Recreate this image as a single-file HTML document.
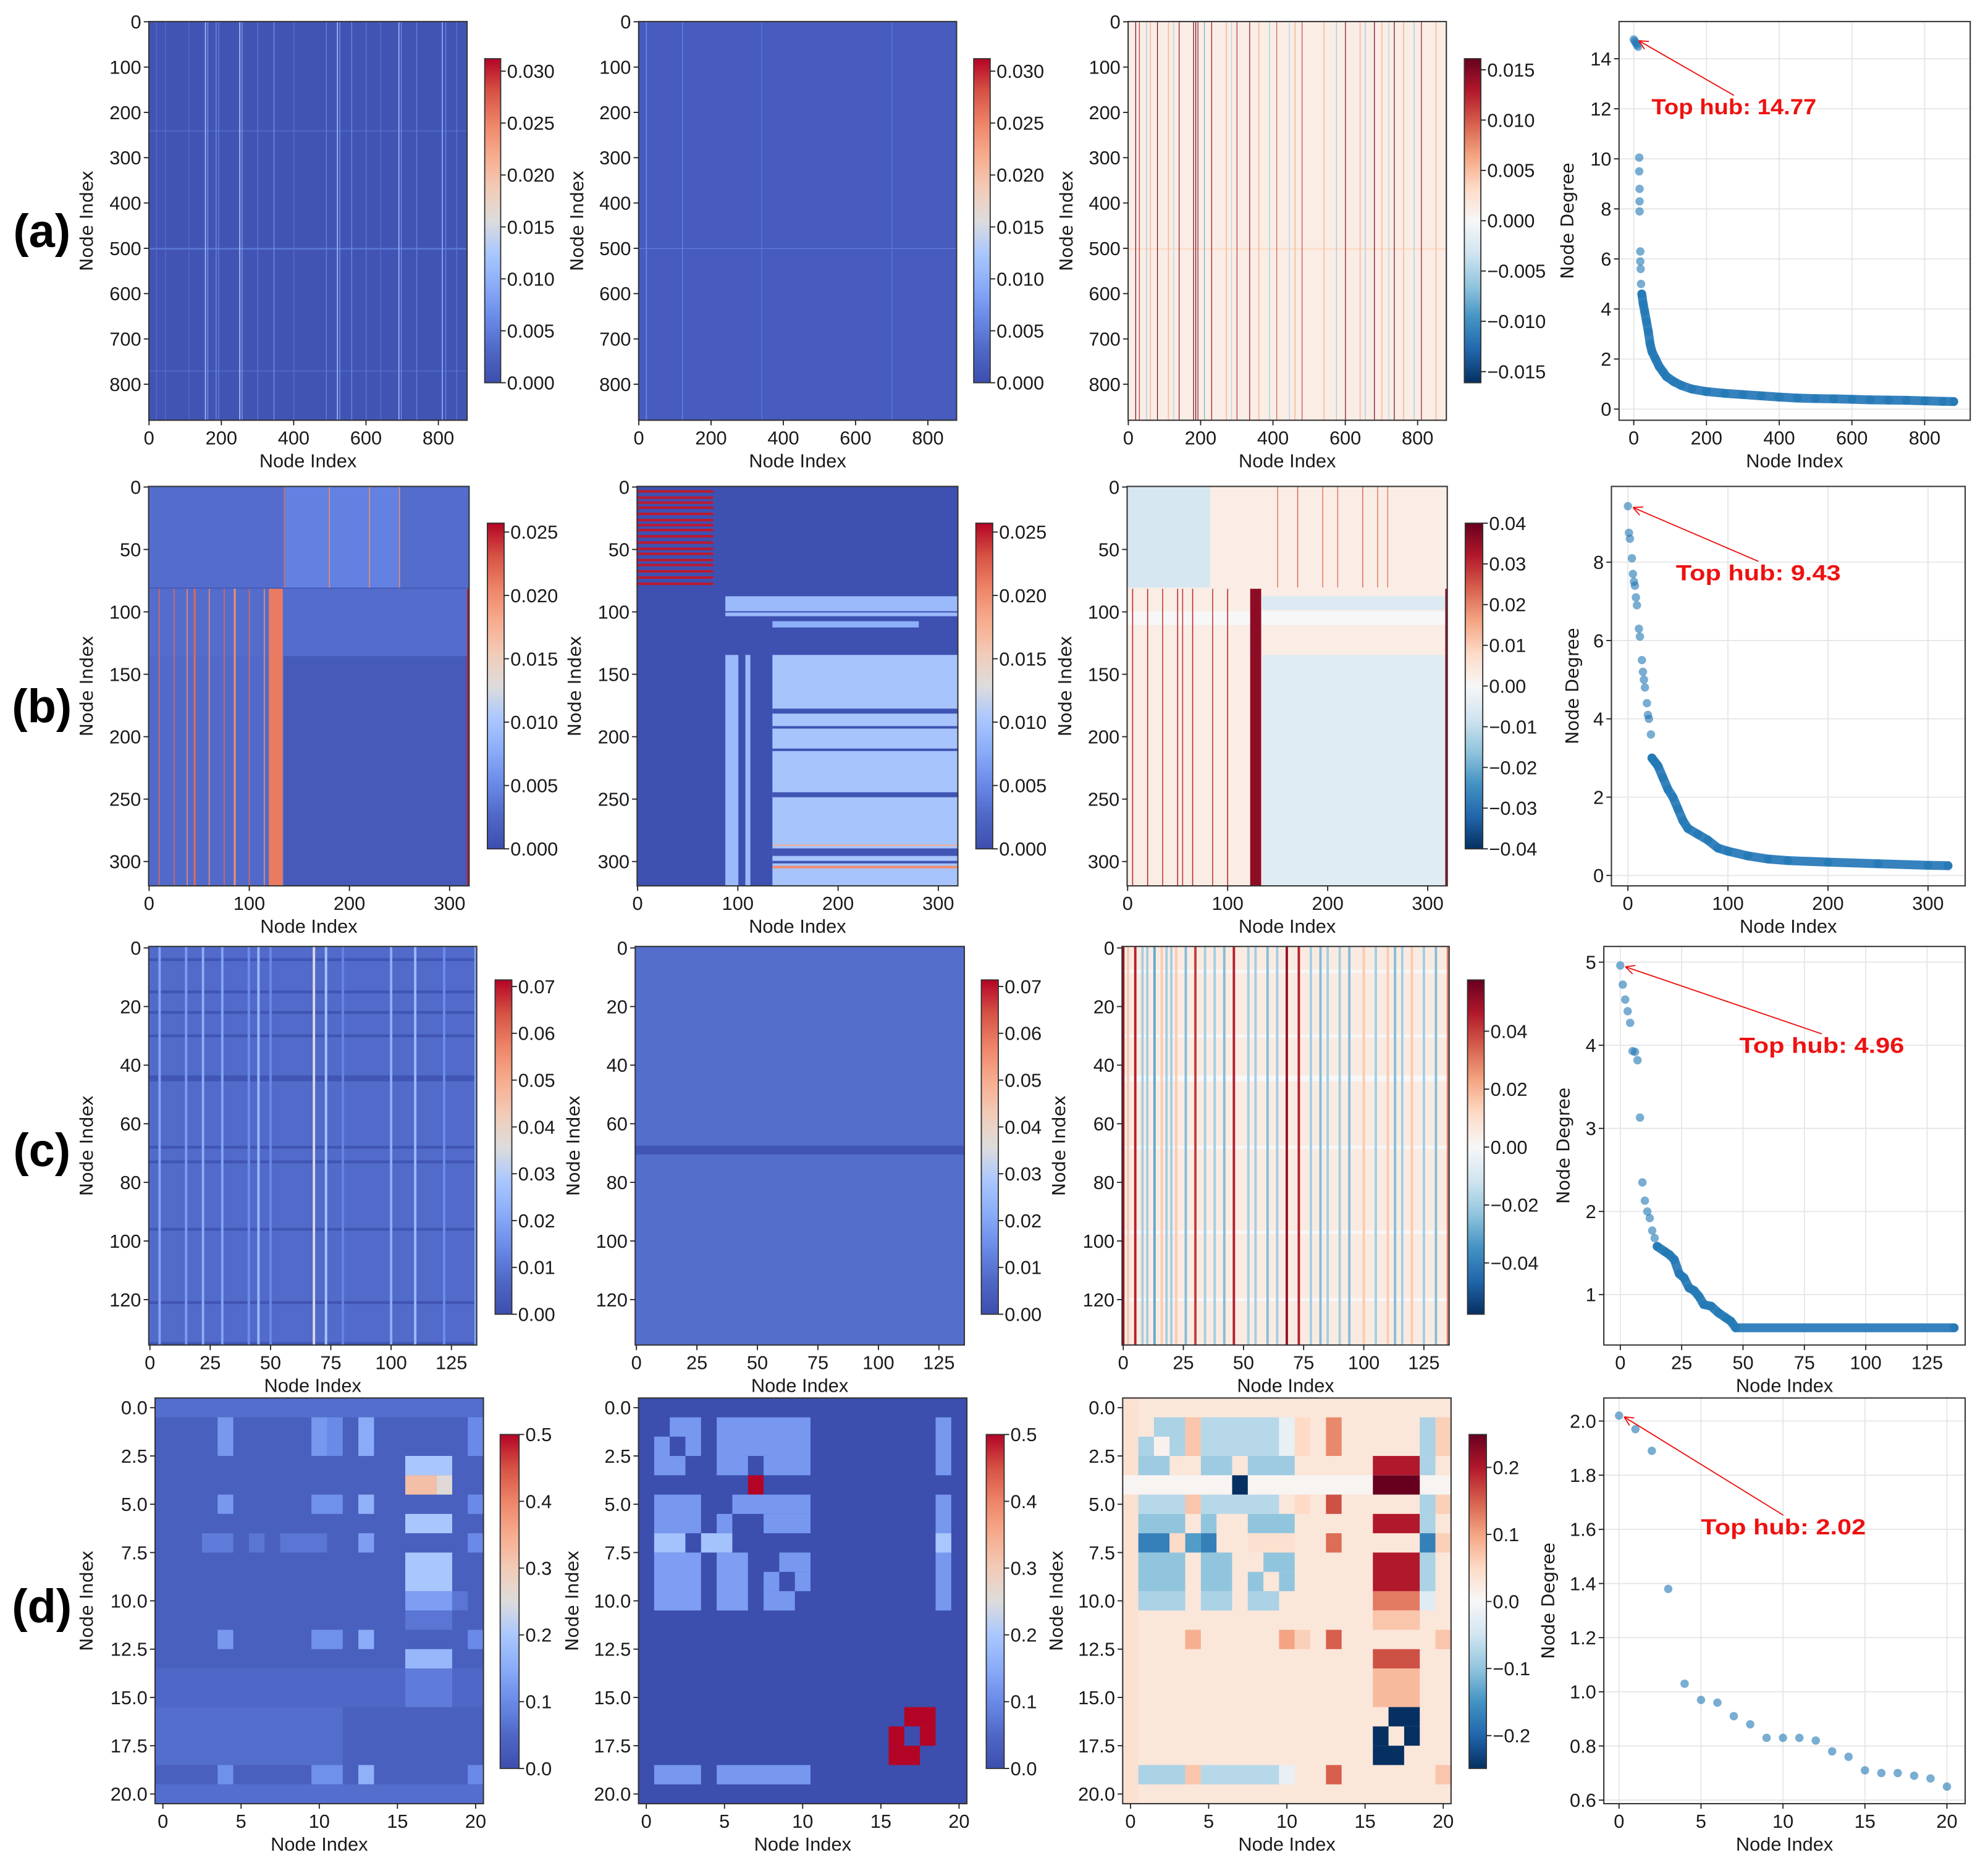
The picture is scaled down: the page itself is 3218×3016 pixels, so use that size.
<!DOCTYPE html>
<html><head><meta charset="utf-8"><title>Node connectivity figure</title>
<style>
html,body{margin:0;padding:0;background:#fff;}
svg{display:block;}
text{font-family:"Liberation Sans","DejaVu Sans",sans-serif;fill:#1a1a1a;}
.tk{font-size:15px;}
.lab{font-size:14px;font-family:"DejaVu Sans","Liberation Sans",sans-serif;}
.xl{font-size:15px;}
.pl{font-size:37px;font-weight:bold;fill:#000;}
.ann{font-size:17px;font-weight:bold;fill:#ee1111;}
</style></head>
<body>
<svg id="fig" xmlns="http://www.w3.org/2000/svg" width="3218" height="3016" viewBox="0 0 1568 1469.6">
<rect x="0" y="0" width="1568" height="1469.6" fill="#fff"/>
</svg>
<script>
// ===== heatmap data (index arrays: [start,end,rowStart,rowEnd,value] / [index,value,width]) =====
const a1Cols=[[20,0.004,2],[45,0.004,2],[110,0.004,2],[155,0.011,3],[162,0.008,2],[185,0.007,2],[192,0.006,2],[250,0.012,3],[257,0.009,2],[300,0.005,2],[345,0.008,2],[400,0.004,2],[490,0.006,2],[520,0.011,3],[527,0.008,2],[560,0.007,2],[600,0.005,2],[640,0.004,2],[690,0.010,3],[697,0.007,2],[740,0.006,2],[810,0.009,3],[820,0.006,2],[850,0.005,2]];
const a1Rows=[[240,0.003,3],[500,0.005,3],[770,0.003,3]];
const a2Cols=[[20,0.006,3],[120,0.005,3],[340,0.005,2],[700,0.005,2]];
const a2Rows=[[500,0.005,2]];
const a3Cols=[[20,0.016,2],[30,0.012,2],[60,0.005,3],[80,0.016,2],[110,0.005,3],[140,0.015,2],[180,0.016,2],[186,0.016,2],[192,0.014,2],[230,0.014,2],[270,0.005,3],[300,0.012,2],[335,0.015,2],[360,0.005,3],[410,0.010,2],[460,0.005,3],[480,0.011,2],[540,0.005,3],[600,0.015,2],[640,0.005,3],[680,0.016,2],[700,0.005,3],[735,0.016,2],[760,0.005,3],[810,0.014,2],[850,0.005,3],[50,-0.006,2],[125,-0.005,2],[210,-0.008,2],[285,-0.005,2],[390,-0.006,2],[445,-0.005,2],[575,-0.006,2],[655,-0.006,2],[720,-0.005,2],[790,-0.006,2]];
const a3Rows=[[500,0.003,4]];
const b1Blocks=[[0,319,0,80,0.003],[135,250,0,80,0.0045],[0,319,82,135,0.003],[0,134,136,319,0.0028],[120,133,82,319,0.021],[10,10,82,319,0.022],[25,25,82,319,0.022],[38,38,82,319,0.02],[45,46,82,319,0.022],[60,60,82,319,0.02],[75,75,82,319,0.022],[85,86,82,319,0.02],[100,100,82,319,0.022],[115,115,82,319,0.02],[135,135,0,80,0.022],[180,180,0,80,0.02],[220,220,0,80,0.02],[250,250,0,80,0.02],[318,319,82,319,0.025]];
const b2Blocks=[[0,75,3,4,0.025],[0,75,8,9,0.025],[0,75,12,13,0.025],[0,75,16,17,0.025],[0,75,21,22,0.025],[0,75,26,27,0.025],[0,75,30,31,0.025],[0,75,34,35,0.025],[0,75,39,40,0.025],[0,75,44,45,0.025],[0,75,49,50,0.025],[0,75,53,54,0.025],[0,75,58,59,0.025],[0,75,62,63,0.025],[0,75,67,68,0.025],[0,75,72,73,0.025],[0,75,77,78,0.025],[88,319,88,99,0.009],[88,319,101,103,0.009],[135,280,108,112,0.008],[135,319,135,319,0.010],[88,100,135,319,0.009],[108,112,135,319,0.009],[135,319,178,181,0.0006],[135,319,192,193,0.0006],[135,319,210,211,0.0006],[135,319,245,248,0.0006],[135,319,290,295,0.0006],[135,319,300,301,0.0006],[135,319,287,287,0.018],[135,319,304,305,0.02]];
const b3Blocks=[[0,82,0,80,-0.007],[0,319,100,110,0],[135,319,88,98,-0.006],[135,319,135,319,-0.005],[123,133,82,319,0.036],[5,5,82,319,0.03],[20,20,82,319,0.03],[35,35,82,319,0.028],[50,50,82,319,0.03],[55,55,82,319,0.028],[65,65,82,319,0.03],[85,85,82,319,0.028],[100,100,82,319,0.03],[150,150,0,80,0.02],[170,170,0,80,0.022],[195,195,0,80,0.02],[210,210,0,80,0.02],[235,235,0,80,0.022],[250,250,0,80,0.02],[260,260,0,80,0.02],[318,319,82,319,0.035]];
const c1Cols=[[4,0.02,1],[15,0.018,1],[22,0.022,1],[30,0.02,1],[41,0.015,1],[45,0.025,1],[50,0.014,1],[68,0.035,1],[73,0.028,1],[80,0.013,1],[100,0.022,1],[110,0.025,1],[122,0.015,1],[135,0.02,1]];
const c1Rows=[[4,0.002,1],[15,0.002,1],[22,0.002,1],[30,0.002,1],[44,0.002,2],[68,0.002,1],[73,0.002,1],[96,0.002,1],[121,0.002,1],[135,0.002,1]];
const c2Rows=[[68,0.002,3]];
const c2Cols=[];
const c3Cols=[[0,0.05,1],[2,0.015,1],[5,0.045,1],[8,-0.02,1],[10,-0.02,1],[13,-0.03,1],[16,0.015,1],[18,-0.02,1],[20,-0.02,1],[22,0.015,1],[26,-0.025,1],[30,0.04,1],[34,-0.02,1],[38,-0.02,1],[42,-0.025,1],[46,0.045,1],[52,-0.02,1],[55,-0.02,1],[60,-0.025,1],[64,-0.02,1],[68,0.05,1],[73,0.045,1],[78,-0.02,1],[82,-0.025,1],[85,-0.02,1],[90,-0.02,1],[94,-0.025,1],[100,0.015,1],[105,-0.02,1],[110,0.015,1],[113,-0.025,1],[116,-0.02,1],[120,0.015,1],[125,-0.02,1],[130,-0.025,1],[135,0.03,1]];
const c3Rows=[[8,0.0,1],[30,0.0,1],[44,0.0,2],[68,0.0,1],[97,0.0,1],[120,0.0,1]];
const d1Blocks=[[0,20,0,0,0.06],[4,4,1,2,0.12],[10,10,1,2,0.12],[11,11,1,2,0.1],[13,13,1,2,0.15],[20,20,1,2,0.1],[16,18,3,3,0.2],[16,17,4,4,0.32],[18,18,4,4,0.26],[4,4,5,5,0.12],[10,11,5,5,0.11],[13,13,5,5,0.16],[20,20,5,5,0.1],[16,18,6,6,0.2],[3,4,7,7,0.08],[6,6,7,7,0.07],[8,10,7,7,0.07],[13,13,7,7,0.13],[20,20,7,7,0.1],[16,18,8,9,0.2],[16,18,10,10,0.13],[19,19,10,10,0.07],[16,18,11,11,0.07],[4,4,12,12,0.12],[10,11,12,12,0.11],[13,13,12,12,0.15],[20,20,12,12,0.1],[16,18,13,13,0.17],[0,20,14,15,0.05],[16,18,14,15,0.08],[0,11,16,18,0.06],[4,4,19,19,0.11],[10,11,19,19,0.11],[13,13,19,19,0.16],[20,20,19,19,0.1],[0,20,20,20,0.06]];
const d2Blocks=[[2,3,1,2,0.12],[5,10,1,2,0.12],[19,19,1,3,0.12],[1,1,2,2,0.12],[2,2,2,2,0.0],[1,2,3,3,0.12],[5,6,3,3,0.12],[8,10,3,3,0.12],[7,7,4,4,0.5],[1,3,5,6,0.12],[6,10,5,5,0.12],[5,5,6,6,0.12],[8,10,6,6,0.12],[19,19,5,10,0.12],[19,19,7,7,0.2],[1,2,7,7,0.19],[4,5,7,7,0.19],[1,3,8,10,0.13],[5,6,8,10,0.13],[9,10,8,8,0.12],[8,8,9,9,0.12],[10,10,9,9,0.12],[8,9,10,10,0.12],[17,18,16,16,0.5],[16,16,17,17,0.5],[18,18,17,17,0.5],[16,17,18,18,0.5],[1,3,19,19,0.12],[5,10,19,19,0.12]];
const d3Blocks=[[0,0,0,20,0.04],[2,3,1,2,-0.08],[4,4,1,2,0.07],[5,9,1,2,-0.07],[10,10,1,2,-0.02],[11,11,1,2,0.05],[13,13,1,2,0.12],[19,19,1,2,-0.08],[20,20,1,2,0.06],[1,1,2,2,-0.08],[2,2,2,2,0.01],[1,2,3,3,-0.09],[5,6,3,3,-0.09],[8,10,3,3,-0.09],[16,18,3,3,0.2],[19,19,3,3,-0.08],[0,20,4,4,0.005],[7,7,4,4,-0.25],[16,18,4,4,0.25],[1,3,5,5,-0.07],[4,4,5,5,0.07],[5,9,5,5,-0.07],[11,11,5,5,0.05],[13,13,5,5,0.16],[19,19,5,5,-0.08],[20,20,5,5,0.06],[1,3,6,6,-0.1],[5,5,6,6,-0.1],[8,10,6,6,-0.1],[16,18,6,6,0.2],[19,19,6,6,-0.08],[1,2,7,7,-0.17],[3,3,7,7,0.05],[4,4,7,7,-0.14],[5,5,7,7,-0.17],[8,10,7,7,0.04],[13,13,7,7,0.14],[19,19,7,7,-0.17],[20,20,7,7,0.06],[1,3,8,9,-0.1],[5,6,8,9,-0.1],[9,10,8,8,-0.1],[8,8,9,9,-0.1],[10,10,9,9,-0.1],[16,18,8,9,0.2],[19,19,8,9,-0.08],[1,3,10,10,-0.08],[5,6,10,10,-0.08],[8,9,10,10,-0.08],[16,18,10,10,0.13],[19,19,10,10,-0.03],[16,18,11,11,0.07],[4,4,12,12,0.09],[10,10,12,12,0.1],[11,11,12,12,0.06],[13,13,12,12,0.15],[20,20,12,12,0.07],[16,18,13,13,0.16],[16,18,14,15,0.08],[17,18,16,16,-0.25],[16,16,17,17,-0.25],[18,18,17,17,-0.25],[16,17,18,18,-0.25],[1,3,19,19,-0.08],[4,4,19,19,0.07],[5,9,19,19,-0.07],[10,10,19,19,-0.02],[13,13,19,19,0.15],[20,20,19,19,0.07]];

// ===== scatter data: [node index, degree] =====
const a4Dots=[[0,14.77],[3,14.7],[6,14.62],[9,14.55],[12,14.48],[15,10.05],[15,9.5],[16,8.8],[16,8.3],[16,7.9],[18,6.3],[18,5.9],[19,5.6],[20,5.0]];
const a4Band=[[22,4.6],[26,4.2],[30,3.9],[35,3.5],[40,3.1],[45,2.6],[50,2.3],[60,2.0],[70,1.7],[80,1.5],[90,1.3],[110,1.1],[130,0.95],[160,0.8],[200,0.7],[250,0.63],[300,0.58],[350,0.53],[400,0.48],[450,0.44],[500,0.42],[550,0.41],[600,0.39],[650,0.37],[700,0.36],[750,0.35],[800,0.33],[850,0.31],[880,0.3]];
const b4Dots=[[0,9.43],[1,8.75],[2,8.6],[4,8.1],[5,7.7],[6,7.5],[7,7.4],[8,7.1],[9,6.9],[11,6.3],[12,6.1],[14,5.5],[15,5.2],[16,5.0],[17,4.8],[19,4.4],[20,4.1],[21,4.0],[23,3.6]];
const b4Band=[[24,3.0],[27,2.9],[30,2.8],[35,2.5],[40,2.2],[45,2.0],[50,1.7],[55,1.4],[60,1.2],[70,1.05],[80,0.9],[90,0.7],[100,0.62],[120,0.5],[140,0.42],[160,0.38],[200,0.34],[250,0.3],[300,0.26],[320,0.25]];
const c4Dots=[[0,4.96],[1,4.73],[2,4.55],[3,4.41],[4,4.27],[5,3.93],[6,3.92],[7,3.82],[8,3.13],[9,2.35],[10,2.13],[11,2.0],[12,1.92],[13,1.77],[14,1.68]];
const c4Band=[[15,1.58],[18,1.52],[20,1.48],[22,1.42],[24,1.25],[26,1.2],[28,1.08],[30,1.05],[32,0.98],[34,0.88],[37,0.86],[40,0.78],[43,0.72],[45,0.68],[47,0.6],[136,0.6]];
const d4Dots=[[0,2.02],[1,1.97],[2,1.89],[3,1.38],[4,1.03],[5,0.97],[6,0.96],[7,0.91],[8,0.88],[9,0.83],[10,0.83],[11,0.83],[12,0.82],[13,0.78],[14,0.76],[15,0.71],[16,0.70],[17,0.70],[18,0.69],[19,0.68],[20,0.65]];
const d4Band=[];
const hubLabels=["Top hub: 14.77","Top hub: 9.43","Top hub: 4.96","Top hub: 2.02"];

// ===== tick label arrays =====
const tA=[0,200,400,600,800], tAy=[0,100,200,300,400,500,600,700,800];
const tB=[0,100,200,300], tBy=[0,50,100,150,200,250,300];
const tC=[0,25,50,75,100,125], tCy=[0,20,40,60,80,100,120];
const tD=[0,5,10,15,20], tDy=[0,2.5,5,7.5,10,12.5,15,17.5,20];
const cbA=[0,0.005,0.01,0.015,0.02,0.025,0.03], cbA3=[-0.015,-0.01,-0.005,0,0.005,0.01,0.015];
const cbB=[0,0.005,0.01,0.015,0.02,0.025], cbB3=[-0.04,-0.03,-0.02,-0.01,0,0.01,0.02,0.03,0.04];
const cbC=[0,0.01,0.02,0.03,0.04,0.05,0.06,0.07], cbC3=[-0.04,-0.02,0,0.02,0.04];
const cbD=[0,0.1,0.2,0.3,0.4,0.5], cbD3=[-0.2,-0.1,0,0.1,0.2];
const sAy=[0,2,4,6,8,10,12,14], sBy=[0,2,4,6,8], sCy=[1,2,3,4,5], sDy=[0.6,0.8,1.0,1.2,1.4,1.6,1.8,2.0];

// ===== rendering =====
const NS="http://www.w3.org/2000/svg";
const svg=document.getElementById('fig');
function el(tag,attrs,parent){const e=document.createElementNS(NS,tag);for(const k in attrs)e.setAttribute(k,attrs[k]);(parent||svg).appendChild(e);return e;}
function txt(s,attrs,parent){const e=el('text',attrs,parent);e.textContent=s;return e;}
const CW=[[0,'#3c4eae'],[0.1,'#4f67c6'],[0.2,'#6a8ae8'],[0.3,'#8aacf8'],[0.4,'#aac7fd'],[0.5,'#dddcdc'],[0.6,'#f2cbb7'],[0.7,'#f7ac8e'],[0.8,'#ee8468'],[0.9,'#d65244'],[1,'#b40426']];
const RB=[[0,'#053061'],[0.1,'#2166ac'],[0.2,'#4393c3'],[0.3,'#92c5de'],[0.4,'#d1e5f0'],[0.5,'#f7f7f7'],[0.6,'#fddbc7'],[0.7,'#f4a582'],[0.8,'#d6604d'],[0.9,'#b2182b'],[1,'#67001f']];
function hex(h){return [parseInt(h.substr(1,2),16),parseInt(h.substr(3,2),16),parseInt(h.substr(5,2),16)];}
function cmap(st,t){t=Math.max(0,Math.min(1,t));for(let i=1;i<st.length;i++){if(t<=st[i][0]){const a=hex(st[i-1][1]),b=hex(st[i][1]);const f=(t-st[i-1][0])/(st[i][0]-st[i-1][0]);return 'rgb('+a.map((v,j)=>Math.round(v+(b[j]-v)*f)).join(',')+')';}}return st[st.length-1][1];}
function fmtMinus(s){return s.replace('-','\u2212');}
let gid=0;

function heatmap(name,box,n,vmin,vmax,st,base,blocks,xt,yt,ydec,cb,cbt,cbdec,ylabX){
  const [L,T,R,B]=box, w=R-L, h=B-T;
  const g=el('g',{});
  
  
  const cid='clip'+(gid++);
  const cp=el('clipPath',{id:cid},g); el('rect',{x:L,y:T,width:w,height:h},cp);
  const ig=el('g',{'clip-path':'url(#'+cid+')'},g);
  const col=v=>cmap(st,(v-vmin)/(vmax-vmin));
  const bg=el('rect',{x:L,y:T,width:w,height:h,fill:col(base)},ig);
  
  
  const sx=c=>L+c/n*w, sy=r=>T+r/n*h;
  blocks.forEach(b=>{const [c0,c1,r0,r1,v]=b;
    const rc=el('rect',{x:sx(c0),y:sy(r0),width:Math.max(0.4,sx(c1+1)-sx(c0)),height:Math.max(0.4,sy(r1+1)-sy(r0)),fill:col(v)},ig);
    
    
  });
  el('rect',{x:L,y:T,width:w,height:h,fill:'none',stroke:'#333','stroke-width':1},g);
  const cx=v=>L+(v+0.5)/n*w, cy=v=>T+(v+0.5)/n*h;
  xt.forEach(v=>{const x=cx(v);el('line',{x1:x,x2:x,y1:B,y2:B+4,stroke:'#222','stroke-width':0.9},g);
    const t=txt(String(v),{x:x,y:B+19,'text-anchor':'middle',class:'tk'},g);
    
    });
  yt.forEach(v=>{const y=cy(v);el('line',{x1:L-4,x2:L,y1:y,y2:y,stroke:'#222','stroke-width':0.9},g);
    const t=txt(v.toFixed(ydec),{x:L-6,y:y+5.3,'text-anchor':'end',class:'tk'},g);
    
    });
  const xl=txt('Node Index',{x:(L+R)/2,y:B+37,'text-anchor':'middle',class:'xl'},g);
  
  
  const yl=txt('Node Index',{x:0,y:0,'text-anchor':'middle',class:'lab',transform:'translate('+ylabX+','+((T+B)/2)+') rotate(-90)'},g);
  
  
  const [cl,ct,cr,cbb]=cb;
  const grad='grad'+(gid++);
  const lg=el('linearGradient',{id:grad,x1:0,y1:1,x2:0,y2:0},g);
  for(let i=0;i<=20;i++){el('stop',{offset:i/20,'stop-color':cmap(st,i/20)},lg);}
  const cbar=el('g',{},g);
  
  
  el('rect',{x:cl,y:ct,width:cr-cl,height:cbb-ct,fill:'url(#'+grad+')',stroke:'#333','stroke-width':0.9},cbar);
  cbt.forEach(v=>{const y=cbb-(v-vmin)/(vmax-vmin)*(cbb-ct);
    el('line',{x1:cr,x2:cr+4,y1:y,y2:y,stroke:'#222','stroke-width':0.9},cbar);
    const t=txt(fmtMinus(v.toFixed(cbdec)),{x:cr+5,y:y+5.3,class:'tk'},cbar);
    
    });
}
function stripes(cols,rows,n){const out=[];
  rows.forEach(r=>out.push([0,n-1,r[0],r[0]+r[2]-1,r[1]]));
  cols.forEach(c=>out.push([c[0],c[0]+c[2]-1,0,n-1,c[1]]));
  return out;}

function scatter(name,box,xmap,ymap,xt,yt,ydec,dots,band,label,txtPos,tip,ylabX){
  const [L,T,R,B]=box;
  const g=el('g',{});
  
  
  const X=v=>xmap[0]+v*xmap[1], Y=v=>ymap[0]-(v-ymap[2])*ymap[1];
  xt.forEach(v=>{el('line',{x1:X(v),x2:X(v),y1:T,y2:B,stroke:'#e6e6e6','stroke-width':0.9},g);});
  yt.forEach(v=>{el('line',{x1:L,x2:R,y1:Y(v),y2:Y(v),stroke:'#e6e6e6','stroke-width':0.9},g);});
  el('rect',{x:L,y:T,width:R-L,height:B-T,fill:'none',stroke:'#333','stroke-width':1},g);
  xt.forEach(v=>{el('line',{x1:X(v),x2:X(v),y1:B,y2:B+4,stroke:'#222','stroke-width':0.9},g);
    const t=txt(String(v),{x:X(v),y:B+19,'text-anchor':'middle',class:'tk'},g);
    
    });
  yt.forEach(v=>{el('line',{x1:L-4,x2:L,y1:Y(v),y2:Y(v),stroke:'#222','stroke-width':0.9},g);
    const t=txt(v.toFixed(ydec),{x:L-6,y:Y(v)+5.3,'text-anchor':'end',class:'tk'},g);
    
    });
  if(band.length){
    const pl=el('polyline',{points:band.map(p=>X(p[0])+','+Y(p[1])).join(' '),fill:'none',stroke:'#2b7bba','stroke-width':7,'stroke-linecap':'round','stroke-linejoin':'round',opacity:0.95},g);
    
    
    band.forEach(p=>{const c=el('circle',{cx:X(p[0]),cy:Y(p[1]),r:3.5,fill:'#1f77b4',opacity:0.7},g);
      
      });
  }
  dots.forEach(p=>{const c=el('circle',{cx:X(p[0]),cy:Y(p[1]),r:3.3,fill:'#1f77b4',opacity:0.6},g);
    
    });
  const tx=X(txtPos[0]), ty=Y(txtPos[1]);
  const at=txt(label,{x:tx,y:ty+6,class:'ann',textLength:130,lengthAdjust:'spacingAndGlyphs'},g);
  
  
  const x1=tx+65,y1=ty-9,x2=X(tip[0])+4,y2=Y(tip[1])+1;
  const ar=el('line',{x1:x1,y1:y1,x2:x2,y2:y2,stroke:'#ee1111','stroke-width':0.9},g);
  
  
  const ang=Math.atan2(y1-y2,x1-x2);
  [0.45,-0.45].forEach(d=>{el('line',{x1:x2,y1:y2,x2:x2+8*Math.cos(ang+d),y2:y2+8*Math.sin(ang+d),stroke:'#ee1111','stroke-width':0.9},g);});
  const xl=txt('Node Index',{x:(L+R)/2,y:B+37,'text-anchor':'middle',class:'xl'},g);
  
  
  const yl=txt('Node Degree',{x:0,y:0,'text-anchor':'middle',class:'lab',transform:'translate('+ylabX+','+((T+B)/2)+') rotate(-90)'},g);
  
  
}

// Row (a)
heatmap('heatmap-a1',[117.4,17,368.4,331.5],880,0,0.0312,CW,0.0008,stripes(a1Cols,a1Rows,880),tA,tAy,0,[382.3,46.3,394.9,301.9],cbA,3,73);
heatmap('heatmap-a2',[503.7,17,754.5,331.5],880,0,0.0312,CW,0.0018,stripes(a2Cols,a2Rows,880),tA,tAy,0,[768,46.3,781,301.9],cbA,3,460);
heatmap('heatmap-a3',[889.8,17,1140.8,331.5],880,-0.0161,0.0161,RB,0.0012,stripes(a3Cols,a3Rows,880),tA,tAy,0,[1155,46.3,1168,301.9],cbA3,3,846);
scatter('scatter-a4',[1277,17,1554,331.5],[1288.6,0.2868],[322.7,19.74,0],tA,sAy,0,a4Dots,a4Band,hubLabels[0],[49,12.08],[0,14.77],1241);
// Row (b)
heatmap('heatmap-b1',[117.2,383.7,370,698.8],320,0,0.0257,CW,0.0012,b1Blocks,tB,tBy,0,[384.4,412.7,397.6,669.6],cbB,3,73);
heatmap('heatmap-b2',[502.5,383.7,755.5,698.8],320,0,0.0257,CW,0.0003,b2Blocks,tB,tBy,0,[769.7,412.7,783,669.6],cbB,3,458);
heatmap('heatmap-b3',[889,383.7,1141.5,698.8],320,-0.04,0.04,RB,0.003,b3Blocks,tB,tBy,0,[1155.7,412.7,1169.5,669.6],cbB3,2,845);
scatter('scatter-b4',[1271,383.7,1550,698.8],[1284,0.789],[690.6,30.89,0],tB,sBy,0,b4Dots,b4Band,hubLabels[1],[48,7.73],[0,9.43],1245);
// Row (c)
heatmap('heatmap-c1',[117.3,746.6,376,1061],136,0,0.0714,CW,0.008,stripes(c1Cols,c1Rows,136),tC,tCy,0,[390.5,773,403.7,1036.7],cbC,2,73);
heatmap('heatmap-c2',[501,746.6,760.6,1061],136,0,0.0714,CW,0.0085,stripes(c2Cols,c2Rows,136),tC,tCy,0,[774,773,787.4,1036.7],cbC,2,457);
heatmap('heatmap-c3',[885,746.6,1143,1061],136,-0.0577,0.0577,RB,0.005,stripes(c3Cols,c3Rows,136),tC,tCy,0,[1157.5,773,1170.6,1036.7],cbC3,2,840);
scatter('scatter-c4',[1265,746.6,1550,1061],[1278,1.936],[1021.2,65.55,1],tC,sCy,0,c4Dots,c4Band,hubLabels[2],[48.5,4.0],[0,4.96],1238);
// Row (d)
heatmap('heatmap-d1',[122.3,1102.8,381.3,1422.8],21,0,0.5,CW,0.035,d1Blocks,tD,tDy,1,[394.5,1131.6,409.4,1395],cbD,1,73);
heatmap('heatmap-d2',[503.6,1102.8,762.6,1422.8],21,0,0.5,CW,0.0,d2Blocks,tD,tDy,1,[777.9,1131.6,792,1395],cbD,1,456);
heatmap('heatmap-d3',[885.5,1102.8,1144.5,1422.8],21,-0.249,0.249,RB,0.03,d3Blocks,tD,tDy,1,[1158.7,1131.6,1172.4,1395],cbD3,1,838);
scatter('scatter-d4',[1265,1102.8,1550,1422.8],[1277,12.93],[1420,213.6,0.6],tD,sDy,1,d4Dots,d4Band,hubLabels[3],[5.0,1.61],[0,2.02],1226);

// Panel labels
[['(a)',182],['(b)',556.5],['(c)',907],['(d)',1266.6]].forEach(p=>{
  const t=txt(p[0],{x:33,y:p[1]+13,'text-anchor':'middle',class:'pl'});
  
  
});
</script>
</body></html>
